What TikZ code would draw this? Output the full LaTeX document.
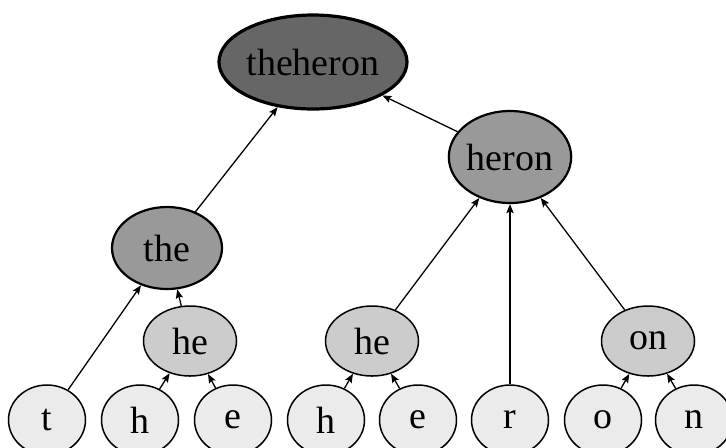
\documentclass[tikz,border=0pt]{standalone}
\usepackage{fontspec}
\setmainfont{Liberation Serif}
\usetikzlibrary{arrows.meta,shapes.geometric}

\definecolor{leafgray}{HTML}{EBEBEB}
\definecolor{pairgray}{HTML}{CCCCCC}
\definecolor{wordgray}{HTML}{999999}
\definecolor{rootgray}{HTML}{666666}

\begin{document}
\begin{tikzpicture}[
  x=0.5pt,
  y=-0.5pt,
  font=\fontsize{19}{22}\selectfont,
  blob/.style={draw=black,ellipse,inner sep=0pt,align=center},
  leaf/.style={blob,fill=leafgray,line width=0.75pt,minimum width=38.5pt,minimum height=35pt},
  pair/.style={blob,fill=pairgray,line width=0.75pt,minimum width=46.5pt,minimum height=35pt},
  word/.style={blob,fill=wordgray,line width=1.1pt},
  root/.style={blob,fill=rootgray,line width=1.6pt,minimum width=90pt,minimum height=47pt},
  edge/.style={draw=black,line width=0.65pt,-{Stealth[length=4.5pt,width=3.6pt,inset=0.8pt]}}
]
\useasboundingbox (0,0) rectangle (726,447);

% Top: the whole word
\node[root] (theheron) at (313,62) {theheron};

% Second level
\node[word,minimum width=55pt,minimum height=41pt] (the) at (167,248) {the};
\node[word,minimum width=60pt,minimum height=46pt] (heron) at (510,157) {heron};

% Pairs
\node[pair] (he1) at (190,341) {he};
\node[pair] (he2) at (372,341) {he};
\node[pair] (on) at (648,341) {on};

% Single letters
\node[leaf] (t) at (47,420) {t};
\node[leaf] (h1) at (140,420) {h};
\node[leaf] (e1) at (233,420) {e};
\node[leaf] (h2) at (326,420) {h};
\node[leaf] (e2) at (418,420) {e};
\node[leaf] (r) at (510,420) {r};
\node[leaf] (o) at (603,420) {o};
\node[leaf] (n) at (694,420) {n};

% Arrows point to the merged node
\draw[edge] (the) -- (theheron);
\draw[edge] (heron) -- (theheron);
\draw[edge] (t) -- (the);
\draw[edge] (he1) -- (the);
\draw[edge] (h1) -- (he1);
\draw[edge] (e1) -- (he1);
\draw[edge] (he2) -- (heron);
\draw[edge] (r) -- (heron);
\draw[edge] (on) -- (heron);
\draw[edge] (h2) -- (he2);
\draw[edge] (e2) -- (he2);
\draw[edge] (o) -- (on);
\draw[edge] (n) -- (on);

\end{tikzpicture}
\end{document}
